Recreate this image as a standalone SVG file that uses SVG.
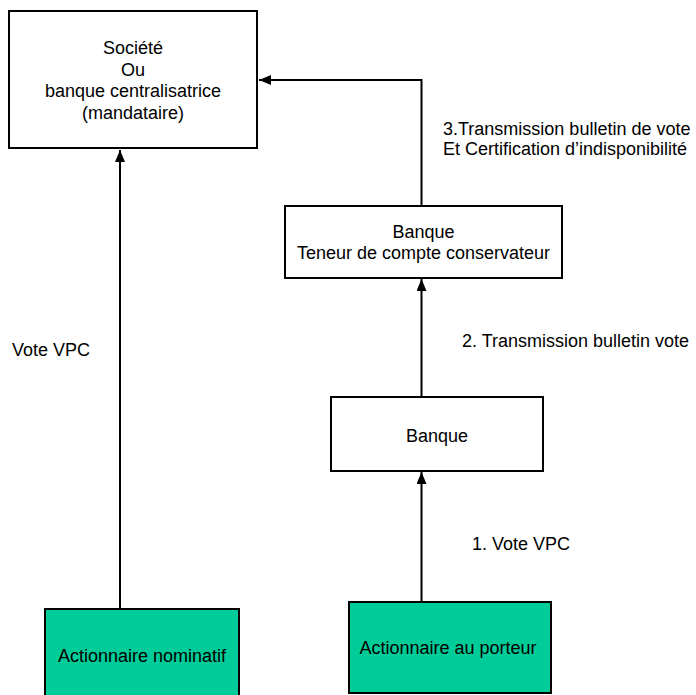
<svg xmlns="http://www.w3.org/2000/svg" width="696" height="695" viewBox="0 0 696 695">
<style>
.box{fill:#ffffff;stroke:#000000;stroke-width:2}
.green{fill:#00CC99;stroke:#000000;stroke-width:2}
.t{font-family:"Liberation Sans",Arial,sans-serif;font-size:18px;fill:#000000}
.c{text-anchor:middle}
.ln{fill:none;stroke:#000000;stroke-width:2}
</style>
<defs>
<marker id="arr" viewBox="0 0 12 10" refX="12" refY="5" markerWidth="12" markerHeight="10" markerUnits="userSpaceOnUse" orient="auto">
<path d="M0,0 L12,5 L0,10 Z" fill="#000000"/>
</marker>
</defs>
<rect width="696" height="695" fill="#ffffff"/>
<g id="connectors">
<path class="ln" d="M120,609 L120,150" marker-end="url(#arr)"/>
<path class="ln" d="M421.5,602 L421.5,472" marker-end="url(#arr)"/>
<path class="ln" d="M421.5,397 L421.5,279" marker-end="url(#arr)"/>
<path class="ln" d="M421.5,206 L421.5,80 L259,80" marker-end="url(#arr)"/>
</g>
<g id="societe">
<rect class="box" x="9" y="11" width="248" height="137"/>
<text class="t c" x="133" y="54">Société</text>
<text class="t c" x="133" y="75.5">Ou</text>
<text class="t c" x="133" y="97">banque centralisatrice</text>
<text class="t c" x="133" y="118.5">(mandataire)</text>
</g>
<g id="banque-tcc">
<rect class="box" x="285" y="206" width="277" height="72"/>
<text class="t c" x="423.5" y="238">Banque</text>
<text class="t c" x="423.5" y="259">Teneur de compte conservateur</text>
</g>
<g id="banque">
<rect class="box" x="331" y="397" width="212" height="74"/>
<text class="t c" x="437" y="442">Banque</text>
</g>
<g id="actionnaire-nominatif">
<rect class="green" x="45" y="609" width="194" height="100"/>
<text class="t c" x="142" y="662">Actionnaire nominatif</text>
</g>
<g id="actionnaire-porteur">
<rect class="green" x="349" y="602" width="202" height="91"/>
<text class="t c" x="448" y="654">Actionnaire au porteur</text>
</g>
<g id="labels">
<text class="t" x="12" y="356">Vote VPC</text>
<text class="t" x="462" y="347">2. Transmission bulletin vote</text>
<text class="t" x="472" y="550">1. Vote VPC</text>
<text class="t" x="443" y="135">3.Transmission bulletin de vote</text>
<text class="t" x="443" y="154.5">Et Certification d’indisponibilité</text>
</g>
</svg>
